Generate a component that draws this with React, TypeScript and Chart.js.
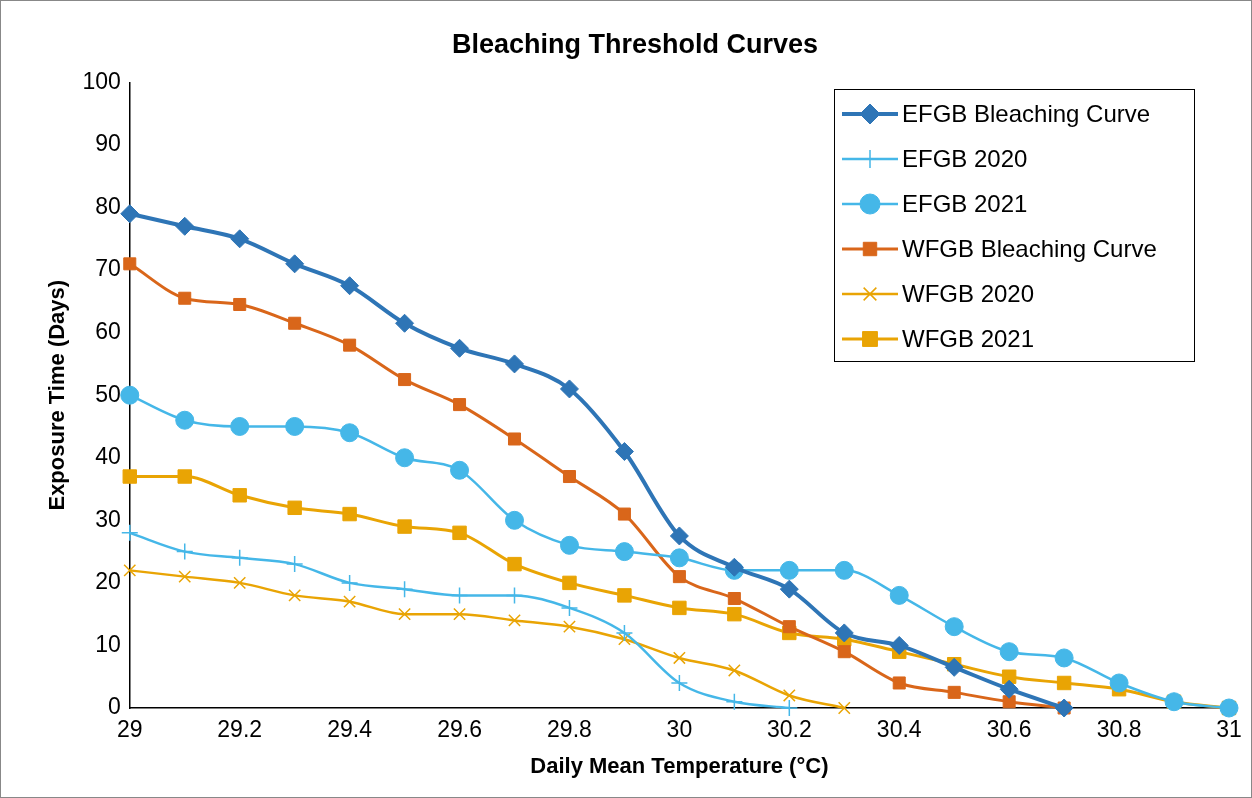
import React, { useEffect, useRef } from "react";
import Chart from "chart.js/auto";
import { drawPoint } from "chart.js/helpers";

const temps = [29, 29.1, 29.2, 29.3, 29.4, 29.5, 29.6, 29.7, 29.8, 29.9, 30, 30.1, 30.2, 30.3, 30.4, 30.5, 30.6, 30.7, 30.8, 30.9, 31];

const efgbCurve = [79, 77, 75, 71, 67.5, 61.5, 57.5, 55, 51, 41, 27.5, 22.5, 19, 12, 10, 6.5, 3, 0];
const efgb2020 = [28, 25, 24, 23, 20, 19, 18, 18, 16, 12, 4, 1, 0];
const efgb2021 = [50, 46, 45, 45, 44, 40, 38, 30, 26, 25, 24, 22, 22, 22, 18, 13, 9, 8, 4, 1, 0];
const wfgbCurve = [71, 65.5, 64.5, 61.5, 58, 52.5, 48.5, 43, 37, 31, 21, 17.5, 13, 9, 4, 2.5, 1, 0];
const wfgb2020 = [22, 21, 20, 18, 17, 15, 15, 14, 13, 11, 8, 6, 2, 0];
const wfgb2021 = [37, 37, 34, 32, 31, 29, 28, 23, 20, 18, 16, 15, 12, 11, 9, 7, 5, 4, 3, 1, 0];

const DARK_BLUE = "#2E75B6";
const LIGHT_BLUE = "#45B7E8";
const ORANGE = "#D9661A";
const GOLD = "#E9A404";

const pts = (vals: number[]) => vals.map((y, i) => ({ x: temps[i], y }));

const legendBox = {
  id: "legendBox",
  afterDraw(chart: any) {
    const ctx = chart.ctx;
    const x0 = 833, y0 = 88, w = 360, h = 272;
    ctx.save();
    ctx.fillStyle = "#fff";
    ctx.fillRect(x0, y0, w, h);
    ctx.strokeStyle = "#000";
    ctx.lineWidth = 1;
    ctx.strokeRect(x0 + 0.5, y0 + 0.5, w, h);
    chart.data.datasets.forEach((ds: any, i: number) => {
      const cy = y0 + 25 + i * 45;
      ctx.strokeStyle = ds.borderColor;
      ctx.lineWidth = ds.borderWidth;
      ctx.beginPath();
      ctx.moveTo(x0 + 8, cy);
      ctx.lineTo(x0 + 64, cy);
      ctx.stroke();
      ctx.fillStyle = ds.pointBackgroundColor;
      ctx.strokeStyle = ds.pointBorderColor;
      ctx.lineWidth = ds.pointBorderWidth;
      drawPoint(ctx, { pointStyle: ds.pointStyle, radius: ds.pointRadius + 1, borderWidth: ds.pointBorderWidth, rotation: 0 } as any, x0 + 36, cy);
      ctx.fillStyle = "#000";
      ctx.font = "24px 'Liberation Sans', Arial, sans-serif";
      ctx.textBaseline = "middle";
      ctx.fillText(ds.label, x0 + 68, cy + 1);
    });
    ctx.restore();
  },
};

const mk = (label: string, data: number[], color: string, style: string, radius: number, width: number) => ({
  label,
  data: pts(data),
  borderColor: color,
  backgroundColor: color,
  borderWidth: width,
  pointStyle: style,
  pointRadius: radius,
  pointBackgroundColor: color,
  pointBorderColor: color,
  pointBorderWidth: style === "cross" || style === "crossRot" ? 1.5 : 1,
  cubicInterpolationMode: "monotone" as const,
  clip: false,
});

const App = () => {
  const chartRef = useRef<HTMLCanvasElement>(null);
  const chartInstanceRef = useRef<Chart | null>(null);

  useEffect(() => {
    document.body.style.margin = "0";
    if (!chartRef.current) return;
    const ctx = chartRef.current.getContext("2d");
    if (!ctx) return;
    if (chartInstanceRef.current) chartInstanceRef.current.destroy();

    const font = "'Liberation Sans', Arial, sans-serif";

    chartInstanceRef.current = new Chart(ctx as any, {
      type: "line",
      data: {
        datasets: [
          mk("EFGB Bleaching Curve", efgbCurve, DARK_BLUE, "rectRot", 9, 4),
          mk("EFGB 2020", efgb2020, LIGHT_BLUE, "cross", 8, 2.5),
          mk("EFGB 2021", efgb2021, LIGHT_BLUE, "circle", 9, 2.5),
          mk("WFGB Bleaching Curve", wfgbCurve, ORANGE, "rect", 8.5, 3),
          mk("WFGB 2020", wfgb2020, GOLD, "crossRot", 8, 2.5),
          mk("WFGB 2021", wfgb2021, GOLD, "rect", 9.5, 3),
        ] as any,
      },
      options: {
        animation: false,
        responsive: true,
        maintainAspectRatio: false,
        layout: { padding: { left: 40, right: 22, top: 18, bottom: 13 } },
        plugins: {
          legend: { display: false },
          tooltip: { enabled: false },
          title: {
            display: true,
            text: "Bleaching Threshold Curves",
            color: "#000",
            font: { family: font, size: 27, weight: "bold" },
            padding: { top: 10, bottom: 21 },
          },
        },
        scales: {
          x: {
            type: "linear",
            min: 29,
            max: 31,
            ticks: {
              stepSize: 0.2,
              color: "#000",
              font: { family: font, size: 23 },
              callback: (v: any) => String(Number(Number(v).toFixed(1))),
              maxRotation: 0,
            },
            grid: { display: false, drawTicks: true, tickLength: 6, tickColor: "#000" } as any,
            border: { color: "#000", width: 1.5 },
            title: {
              display: true,
              text: "Daily Mean Temperature (°C)",
              color: "#000",
              font: { family: font, size: 22, weight: "bold" },
              padding: { top: 6 },
            },
          },
          y: {
            min: 0,
            max: 100,
            ticks: { stepSize: 10, color: "#000", font: { family: font, size: 23 } },
            grid: { display: false, tickLength: 6, tickColor: "#000" } as any,
            border: { color: "#000", width: 1.5 },
            title: {
              display: true,
              text: "Exposure Time (Days)",
              color: "#000",
              font: { family: font, size: 22, weight: "bold" },
              padding: { bottom: 8 },
            },
          },
        },
      },
      plugins: [legendBox],
    });

    return () => {
      if (chartInstanceRef.current) chartInstanceRef.current.destroy();
    };
  }, []);

  return (
    <div style={{ position: "relative", width: "1250px", height: "796px", border: "1px solid #888", background: "#fff" }}>
      <canvas ref={chartRef} />
    </div>
  );
};

export default App;
